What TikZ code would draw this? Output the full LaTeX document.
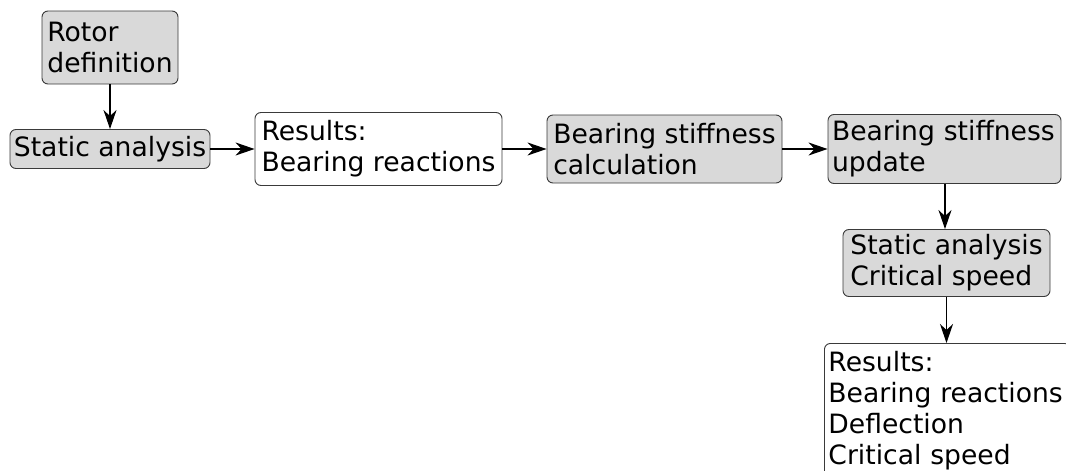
\documentclass[tikz,border=0pt]{standalone}
\usepackage{fontspec}
\setmainfont{DejaVu Sans}
\usepackage{xcolor}
\usetikzlibrary{arrows.meta, positioning}
\definecolor{boxfill}{HTML}{D9D9D9}
\definecolor{boxline}{HTML}{3A3A3A}

\begin{document}
\begin{tikzpicture}[
    x=1pt, y=-1pt,
    basebox/.style={rectangle, draw=boxline, line width=0.9pt, rounded corners=6pt,
                    align=left, inner sep=3pt, font=\fontsize{26.6}{31}\selectfont},
    graybox/.style={basebox, fill=boxfill},
    whitebox/.style={basebox, fill=white},
    arr/.style={-{Stealth[length=19pt, width=13pt, inset=6pt]}, line width=1.2pt},
]
    \useasboundingbox (0,0) rectangle (1066,471);

    % ── top row ──
    \node[graybox, minimum width=136pt, minimum height=73pt] (rotor) at (110, 47.5) {Rotor\\definition};
    \node[graybox, minimum width=200pt, minimum height=39pt] (stat)  at (110, 149)   {Static analysis};
    \node[whitebox, minimum width=247pt, minimum height=73pt] (res)  at (378.5, 149) {Results:\\Bearing reactions};
    \node[graybox, minimum width=235pt, minimum height=68pt] (calc)  at (664.5, 149) {Bearing stiffness\\calculation};
    \node[graybox, minimum width=233pt, minimum height=69pt, text width=225pt] (upd) at (944.5, 149) {Bearing stiffness\\update};

    % ── right column ──
    \node[graybox, minimum width=207pt, minimum height=67pt] (crit) at (946.5, 263) {Static analysis\\Critical speed};
    \node[whitebox, anchor=north west, minimum width=246pt, minimum height=134pt, text width=238pt]
        (resfin) at (824, 343) {Results:\\Bearing reactions\\Deflection\\Critical speed};

    % Arrows
    \draw[arr] (rotor) -- (stat);
    \draw[arr] (stat) -- (res);
    \draw[arr] (res) -- (calc);
    \draw[arr] (calc) -- (upd);
    \draw[arr] (upd.south -| crit) ++(-1.5,0) coordinate (updb) -- (updb |- crit.north);
    \draw[arr] (crit.south) -- (crit.south |- resfin.north);

\end{tikzpicture}
\end{document}
